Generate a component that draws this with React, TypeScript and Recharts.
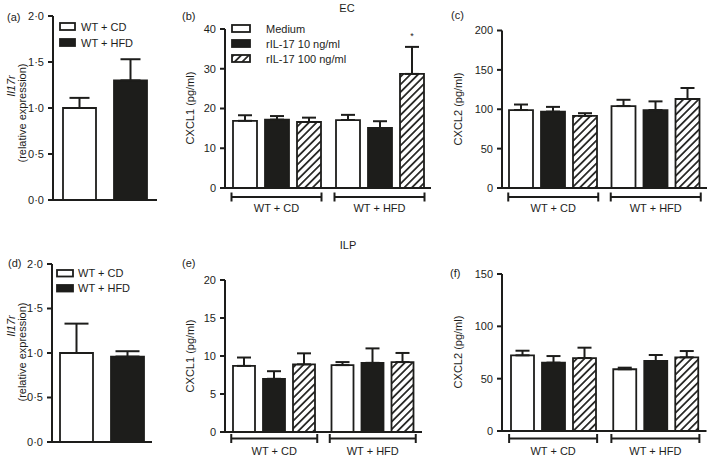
import React from "react";
import { BarChart, Bar, XAxis, YAxis, ErrorBar, Legend, LabelList } from "recharts";

const W = 709;
const H = 456;
const Y_W = 40;
const X_H = 30;
const INK = "#1d1d1b";
const FONT = "'Liberation Sans', Arial, Helvetica, sans-serif";
const HATCH = 5.4;

// il17r expression, (a) EC and (d) ILP
const dietLabels = ["WT + CD", "WT + HFD"];
const ecIl17r = [1.0, 1.3];
const ecIl17rSem = [0.11, 0.23];
const ilpIl17r = [1.0, 0.96];
const ilpIl17rSem = [0.33, 0.06];
const il17rTicks = [0, 0.5, 1, 1.5, 2];

// cytokine panels, two diets x three treatments
const groupLabels = ["WT + CD", "WT + HFD"];
const treatmentLabels = ["Medium", "rIL-17 10 ng/ml", "rIL-17 100 ng/ml"];

// (b) EC CXCL1
const ecCxcl1Medium = [16.9, 17.1];
const ecCxcl1Low = [17.2, 15.1];
const ecCxcl1High = [16.6, 28.7];
const ecCxcl1MediumSem = [1.4, 1.3];
const ecCxcl1LowSem = [0.9, 1.7];
const ecCxcl1HighSem = [1.1, 6.8];
const ecCxcl1HighSig = ["", "*"];
const ecCxcl1Ticks = [0, 10, 20, 30, 40];

// (c) EC CXCL2
const ecCxcl2Medium = [99, 104];
const ecCxcl2Low = [97, 99];
const ecCxcl2High = [91.5, 113];
const ecCxcl2MediumSem = [7, 8];
const ecCxcl2LowSem = [6, 11];
const ecCxcl2HighSem = [3.5, 14];
const ecCxcl2Ticks = [0, 50, 100, 150, 200];

// (e) ILP CXCL1
const ilpCxcl1Medium = [8.7, 8.8];
const ilpCxcl1Low = [7.0, 9.1];
const ilpCxcl1High = [8.9, 9.2];
const ilpCxcl1MediumSem = [1.1, 0.4];
const ilpCxcl1LowSem = [1.0, 1.9];
const ilpCxcl1HighSem = [1.45, 1.2];
const ilpCxcl1Ticks = [0, 5, 10, 15, 20];

// (f) ILP CXCL2
const ilpCxcl2Medium = [72.3, 59];
const ilpCxcl2Low = [65.3, 66.9];
const ilpCxcl2High = [69.7, 70.4];
const ilpCxcl2MediumSem = [4.4, 1.5];
const ilpCxcl2LowSem = [6.3, 5.7];
const ilpCxcl2HighSem = [9.9, 6.0];
const ilpCxcl2Ticks = [0, 50, 100, 150];

type Rect = { left: number; right: number; top: number; bottom: number };

function frame(r: Rect) {
  return { top: r.top, left: r.left - Y_W, right: W - r.right, bottom: H - r.bottom - X_H };
}

function il17rRows(vals: number[], sem: number[]) {
  return [{ name: "", cd: vals[0], hfd: vals[1], cdE: [0, sem[0]], hfdE: [0, sem[1]] }];
}

function cytoRows(
  med: number[], low: number[], high: number[],
  medE: number[], lowE: number[], highE: number[], sig?: string[]
) {
  return groupLabels.map((g, i) => ({
    group: g,
    med: med[i],
    low: low[i],
    high: high[i],
    medE: [0, medE[i]],
    lowE: [0, lowE[i]],
    highE: [0, highE[i]],
    sig: sig ? sig[i] : "",
  }));
}

const axisProps = {
  axisLine: { stroke: INK, strokeWidth: 2 },
  tickLine: { stroke: INK, strokeWidth: 2 },
  tick: { fill: INK, fontSize: 11, fontFamily: FONT },
};

function SwatchLegend(props: any) {
  const { payload = [], boxW, boxH, step, textX } = props;
  return (
    <svg width={150} height={step * payload.length + 4} style={{ display: "block", overflow: "visible" }}>
      {payload.map((item: any, i: number) => (
        <g key={String(item.value)} transform={`translate(0, ${i * step})`}>
          <rect
            x={1}
            y={1}
            width={boxW}
            height={boxH}
            fill={item.payload?.fill ?? item.color}
            stroke={INK}
            strokeWidth={1.8}
          />
          <text
            x={textX}
            y={1 + boxH / 2}
            dominantBaseline="central"
            fontSize={11}
            fontFamily={FONT}
            fill={INK}
          >
            {item.value}
          </text>
        </g>
      ))}
    </svg>
  );
}

function BracketTick(props: any) {
  const { x, y, payload, half, lineDy, textDy } = props;
  const by = y + lineDy;
  return (
    <g>
      <line x1={x - half} x2={x + half} y1={by} y2={by} stroke={INK} strokeWidth={2} />
      <line x1={x - half} x2={x - half} y1={by - 4.5} y2={by + 4.5} stroke={INK} strokeWidth={2} />
      <line x1={x + half} x2={x + half} y1={by - 4.5} y2={by + 4.5} stroke={INK} strokeWidth={2} />
      <text
        x={x}
        y={y + textDy}
        textAnchor="middle"
        dominantBaseline="central"
        fontSize={11}
        fontFamily={FONT}
        fill={INK}
      >
        {payload.value}
      </text>
    </g>
  );
}

function SigMark(props: any) {
  const { index, value, rows } = props;
  const vb = props.viewBox || props;
  if (!value) return null;
  const row = rows[index];
  const pxPerUnit = vb.height / row.high;
  const capY = vb.y - row.highE[1] * pxPerUnit;
  return (
    <text x={vb.x + vb.width / 2} y={capY - 8} textAnchor="middle" fontSize={9} fontFamily={FONT} fill={INK}>
      {value}
    </text>
  );
}

function Il17rPanel({
  rect, vals, sem, barSize, barGap, cap, legendPos, legendBox, legendStep,
}: {
  rect: Rect; vals: number[]; sem: number[]; barSize: number; barGap: number; cap: number;
  legendPos: { left: number; top: number }; legendBox: [number, number]; legendStep: number;
}) {
  const rows = il17rRows(vals, sem);
  return (
    <div style={{ position: "absolute", left: 0, top: 0 }}>
      <BarChart width={W} height={H} margin={frame(rect)} data={rows} barGap={barGap}>
        <XAxis dataKey="name" height={X_H} tick={false} tickLine={false} axisLine={axisProps.axisLine} />
        <YAxis
          width={Y_W}
          domain={[0, 2]}
          ticks={il17rTicks}
          interval={0}
          tickSize={5}
          tickMargin={4}
          tickFormatter={(v: number) => v.toFixed(1).replace(".", "·")}
          {...axisProps}
        />
        <Legend
          layout="vertical"
          align="center"
          verticalAlign="middle"
          wrapperStyle={{ left: legendPos.left, top: legendPos.top, width: "auto", height: "auto" }}
          content={(p: any) => (
            <SwatchLegend {...p} boxW={legendBox[0]} boxH={legendBox[1]} step={legendStep} textX={22} />
          )}
        />
        <Bar dataKey="cd" name={dietLabels[0]} fill="#ffffff" stroke={INK} strokeWidth={1.8} barSize={barSize} isAnimationActive={false}>
          <ErrorBar dataKey="cdE" width={cap} stroke={INK} strokeWidth={2} />
        </Bar>
        <Bar dataKey="hfd" name={dietLabels[1]} fill={INK} stroke={INK} strokeWidth={1.8} barSize={barSize} isAnimationActive={false}>
          <ErrorBar dataKey="hfdE" width={cap} stroke={INK} strokeWidth={2} />
        </Bar>
      </BarChart>
    </div>
  );
}

function CytoPanel({
  id, rect, rows, domain, ticks, barSize, barGap, cap, half, lineDy, textDy, legend, sig,
}: {
  id: string; rect: Rect; rows: any[]; domain: [number, number]; ticks: number[];
  barSize: number; barGap: number; cap: number; half: number; lineDy: number; textDy: number;
  legend?: { left: number; top: number }; sig?: boolean;
}) {
  const hatch = `hatch-${id}`;
  return (
    <div style={{ position: "absolute", left: 0, top: 0 }}>
      <BarChart width={W} height={H} margin={frame(rect)} data={rows} barGap={barGap}>
        <defs>
          <pattern id={hatch} patternUnits="userSpaceOnUse" width={HATCH} height={HATCH} patternTransform="rotate(45)">
            <rect width={HATCH} height={HATCH} fill="#ffffff" />
            <line x1={HATCH / 2} y1={0} x2={HATCH / 2} y2={HATCH} stroke={INK} strokeWidth={1.7} />
          </pattern>
        </defs>
        <XAxis
          dataKey="group"
          height={X_H}
          tickLine={false}
          tickSize={0}
          tickMargin={0}
          interval={0}
          axisLine={axisProps.axisLine}
          tick={(p: any) => <BracketTick {...p} half={half} lineDy={lineDy} textDy={textDy} />}
        />
        <YAxis width={Y_W} domain={domain} ticks={ticks} interval={0} tickSize={5} tickMargin={4} {...axisProps} />
        {legend && (
          <Legend
            layout="vertical"
            align="center"
            verticalAlign="middle"
            wrapperStyle={{ left: legend.left, top: legend.top, width: "auto", height: "auto" }}
            content={(p: any) => <SwatchLegend {...p} boxW={18} boxH={7} step={15} textX={35} />}
          />
        )}
        <Bar dataKey="med" name={treatmentLabels[0]} fill="#ffffff" stroke={INK} strokeWidth={1.8} barSize={barSize} isAnimationActive={false}>
          <ErrorBar dataKey="medE" width={cap} stroke={INK} strokeWidth={2} />
        </Bar>
        <Bar dataKey="low" name={treatmentLabels[1]} fill={INK} stroke={INK} strokeWidth={1.8} barSize={barSize} isAnimationActive={false}>
          <ErrorBar dataKey="lowE" width={cap} stroke={INK} strokeWidth={2} />
        </Bar>
        <Bar dataKey="high" name={treatmentLabels[2]} fill={`url(#${hatch})`} stroke={INK} strokeWidth={1.8} barSize={barSize} isAnimationActive={false}>
          <ErrorBar dataKey="highE" width={cap} stroke={INK} strokeWidth={2} />
          {sig && <LabelList dataKey="sig" content={(p: any) => <SigMark {...p} rows={rows} />} />}
        </Bar>
      </BarChart>
    </div>
  );
}

function Caption({ x, y, children, anchor = "start", italic = false }: any) {
  return (
    <text
      x={x}
      y={y}
      textAnchor={anchor}
      dominantBaseline="central"
      fontSize={11}
      fontFamily={FONT}
      fontStyle={italic ? "italic" : "normal"}
      fill={INK}
    >
      {children}
    </text>
  );
}

function VCaption({ x, y, children, italic = false }: any) {
  return (
    <text
      transform={`translate(${x}, ${y}) rotate(-90)`}
      textAnchor="middle"
      dominantBaseline="central"
      fontSize={11}
      fontFamily={FONT}
      fontStyle={italic ? "italic" : "normal"}
      fill={INK}
    >
      {children}
    </text>
  );
}

export default function App() {
  const ecCxcl1 = cytoRows(ecCxcl1Medium, ecCxcl1Low, ecCxcl1High, ecCxcl1MediumSem, ecCxcl1LowSem, ecCxcl1HighSem, ecCxcl1HighSig);
  const ecCxcl2 = cytoRows(ecCxcl2Medium, ecCxcl2Low, ecCxcl2High, ecCxcl2MediumSem, ecCxcl2LowSem, ecCxcl2HighSem);
  const ilpCxcl1 = cytoRows(ilpCxcl1Medium, ilpCxcl1Low, ilpCxcl1High, ilpCxcl1MediumSem, ilpCxcl1LowSem, ilpCxcl1HighSem);
  const ilpCxcl2 = cytoRows(ilpCxcl2Medium, ilpCxcl2Low, ilpCxcl2High, ilpCxcl2MediumSem, ilpCxcl2LowSem, ilpCxcl2HighSem);

  return (
    <div style={{ position: "absolute", left: 0, top: 0, width: W, height: H, background: "#fff", overflow: "hidden" }}>
      <Il17rPanel
        rect={{ left: 53, right: 157, top: 16, bottom: 200 }}
        vals={ecIl17r}
        sem={ecIl17rSem}
        barSize={33}
        barGap={18}
        cap={10}
        legendPos={{ left: 59, top: 22 }}
        legendBox={[15, 7]}
        legendStep={16}
      />
      <CytoPanel
        id="b"
        rect={{ left: 225, right: 431, top: 29, bottom: 188 }}
        rows={ecCxcl1}
        domain={[0, 40]}
        ticks={ecCxcl1Ticks}
        barSize={24}
        barGap={8}
        cap={7}
        half={45}
        lineDy={9}
        textDy={20}
        legend={{ left: 231, top: 24 }}
        sig
      />
      <CytoPanel
        id="c"
        rect={{ left: 502, right: 707, top: 30.5, bottom: 188 }}
        rows={ecCxcl2}
        domain={[0, 200]}
        ticks={ecCxcl2Ticks}
        barSize={24}
        barGap={8}
        cap={7}
        half={45}
        lineDy={9}
        textDy={20}
      />
      <Il17rPanel
        rect={{ left: 52, right: 152, top: 264, bottom: 442 }}
        vals={ilpIl17r}
        sem={ilpIl17rSem}
        barSize={33}
        barGap={18}
        cap={12}
        legendPos={{ left: 56, top: 269 }}
        legendBox={[16, 6.5]}
        legendStep={15}
      />
      <CytoPanel
        id="e"
        rect={{ left: 225, right: 422, top: 280, bottom: 432 }}
        rows={ilpCxcl1}
        domain={[0, 20]}
        ticks={ilpCxcl1Ticks}
        barSize={22}
        barGap={8}
        cap={7}
        half={43}
        lineDy={6.5}
        textDy={18.5}
      />
      <CytoPanel
        id="f"
        rect={{ left: 502, right: 706.5, top: 274, bottom: 431 }}
        rows={ilpCxcl2}
        domain={[0, 150]}
        ticks={ilpCxcl2Ticks}
        barSize={23}
        barGap={8}
        cap={7}
        half={44}
        lineDy={7.5}
        textDy={19.5}
      />
      <svg width={W} height={H} style={{ position: "absolute", left: 0, top: 0, pointerEvents: "none" }}>
        <Caption x={7} y={17}>(a)</Caption>
        <Caption x={182} y={16}>(b)</Caption>
        <Caption x={451} y={15}>(c)</Caption>
        <Caption x={8} y={263}>(d)</Caption>
        <Caption x={182} y={263}>(e)</Caption>
        <Caption x={450} y={273}>(f)</Caption>
        <Caption x={347} y={8} anchor="middle">EC</Caption>
        <Caption x={348} y={245} anchor="middle">ILP</Caption>
        <VCaption x={11} y={86} italic>Il17r</VCaption>
        <VCaption x={21.5} y={113}>(relative expression)</VCaption>
        <VCaption x={11} y={326} italic>Il17r</VCaption>
        <VCaption x={21.5} y={352}>(relative expression)</VCaption>
        <VCaption x={190} y={108}>CXCL1 (pg/ml)</VCaption>
        <VCaption x={458} y={109}>CXCL2 (pg/ml)</VCaption>
        <VCaption x={190} y={356}>CXCL1 (pg/ml)</VCaption>
        <VCaption x={458} y={352}>CXCL2 (pg/ml)</VCaption>
      </svg>
    </div>
  );
}
